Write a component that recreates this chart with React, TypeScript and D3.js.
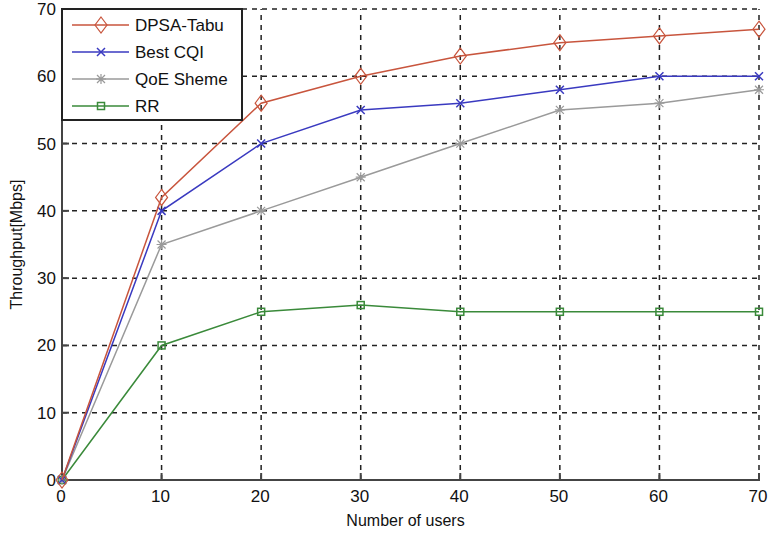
import React, { useRef, useEffect } from 'react';
import { select, scaleLinear, line, range } from 'd3';

const users = [0, 10, 20, 30, 40, 50, 60, 70];
const dpsaTabu = [0, 42, 56, 60, 63, 65, 66, 67];
const bestCqi = [0, 40, 50, 55, 56, 58, 60, 60];
const qoeSheme = [0, 35, 40, 45, 50, 55, 56, 58];
const rr = [0, 20, 25, 26, 25, 25, 25, 25];
const seriesNames = ['DPSA-Tabu', 'Best CQI', 'QoE Sheme', 'RR'];
const xTicks = [0, 10, 20, 30, 40, 50, 60, 70];
const yTicks = [0, 10, 20, 30, 40, 50, 60, 70];

const COLORS = ['#c8553d', '#3a3ac0', '#9a9a9a', '#3a8a3a'];
const MARKERS = ['diamond', 'x', 'star', 'square'];

const W = 770;
const H = 534;
const left = 62;
const right = 759;
const top = 9;
const bottom = 480;

function drawMarker(g: any, kind: string, x: number, y: number, color: string) {
  if (kind === 'diamond') {
    g.append('path')
      .attr('d', `M${x},${y - 8}L${x + 6},${y}L${x},${y + 8}L${x - 6},${y}Z`)
      .attr('fill', 'none').attr('stroke', color).attr('stroke-width', 1.2);
  } else if (kind === 'x') {
    g.append('path')
      .attr('d', `M${x - 4},${y - 4}L${x + 4},${y + 4}M${x - 4},${y + 4}L${x + 4},${y - 4}`)
      .attr('stroke', color).attr('stroke-width', 1.5);
  } else if (kind === 'star') {
    g.append('path')
      .attr('d', `M${x - 5},${y}L${x + 5},${y}M${x},${y - 5}L${x},${y + 5}M${x - 4},${y - 4}L${x + 4},${y + 4}M${x - 4},${y + 4}L${x + 4},${y - 4}`)
      .attr('stroke', color).attr('stroke-width', 1.2);
  } else {
    g.append('rect')
      .attr('x', x - 3.5).attr('y', y - 3.5).attr('width', 7).attr('height', 7)
      .attr('fill', 'none').attr('stroke', color).attr('stroke-width', 1.5);
  }
}

const Chart = () => {
  const svgRef = useRef<SVGSVGElement>(null);

  useEffect(() => {
    const svg = select(svgRef.current);
    svg.selectAll('*').remove();

    const x = scaleLinear().domain([0, 70]).range([left, right]);
    const y = scaleLinear().domain([0, 70]).range([bottom, top]);

    svg.append('rect').attr('width', W).attr('height', H).attr('fill', '#ffffff');

    // grid
    const grid = svg.append('g').attr('stroke', '#222').attr('stroke-width', 1.5)
      .attr('stroke-dasharray', '5,5');
    xTicks.slice(1).forEach(t => {
      grid.append('line').attr('x1', x(t)).attr('x2', x(t)).attr('y1', bottom).attr('y2', top);
    });
    yTicks.slice(1).forEach(t => {
      grid.append('line').attr('x1', left).attr('x2', right).attr('y1', y(t)).attr('y2', y(t));
    });

    // axes
    const axis = svg.append('g').attr('stroke', '#444').attr('stroke-width', 2);
    axis.append('line').attr('x1', left).attr('x2', left).attr('y1', top).attr('y2', bottom + 1);
    axis.append('line').attr('x1', left - 1).attr('x2', right + 1).attr('y1', bottom).attr('y2', bottom);
    xTicks.forEach(t => {
      axis.append('line').attr('x1', x(t)).attr('x2', x(t)).attr('y1', bottom).attr('y2', bottom - 7);
    });
    yTicks.forEach(t => {
      axis.append('line').attr('x1', left).attr('x2', left + 7).attr('y1', y(t)).attr('y2', y(t));
    });

    const font = 'Liberation Sans, Arial, sans-serif';
    const labels = svg.append('g').attr('font-family', font).attr('font-size', 17).attr('fill', '#111');
    xTicks.forEach(t => {
      labels.append('text').attr('x', x(t) - 1).attr('y', bottom + 22).attr('text-anchor', 'middle').text(t);
    });
    yTicks.forEach(t => {
      labels.append('text').attr('x', left - 6).attr('y', y(t)).attr('dy', '0.35em')
        .attr('text-anchor', 'end').text(t);
    });
    labels.append('text').attr('x', (left + right) / 2 - 5).attr('y', 526)
      .attr('text-anchor', 'middle').attr('font-size', 16).text('Number of users');
    labels.append('text')
      .attr('transform', `translate(22,${(top + bottom) / 2}) rotate(-90)`)
      .attr('text-anchor', 'middle').attr('font-size', 16).text('Throughput[Mbps]');

    // series
    const allSeries = [dpsaTabu, bestCqi, qoeSheme, rr];
    const lineGen = line<number>().x((d, i) => x(users[i])).y(d => y(d));
    [3, 2, 1, 0].forEach(s => {
      const g = svg.append('g');
      g.append('path').attr('d', lineGen(allSeries[s]))
        .attr('fill', 'none').attr('stroke', COLORS[s]).attr('stroke-width', 1.5);
      allSeries[s].forEach((v, i) => drawMarker(g, MARKERS[s], x(users[i]), y(v), COLORS[s]));
    });

    // legend
    const lg = svg.append('g');
    lg.append('rect').attr('x', left).attr('y', top).attr('width', 180).attr('height', 111)
      .attr('fill', '#fff').attr('stroke', '#222').attr('stroke-width', 2);
    range(seriesNames.length).forEach(i => {
      const ly = 25 + i * 27;
      lg.append('line').attr('x1', 72).attr('x2', 129).attr('y1', ly).attr('y2', ly)
        .attr('stroke', COLORS[i]).attr('stroke-width', 1.5);
      drawMarker(lg, MARKERS[i], 101, ly, COLORS[i]);
      lg.append('text').attr('x', 135).attr('y', ly).attr('dy', '0.35em')
        .attr('font-family', font).attr('font-size', 17).attr('fill', '#111').text(seriesNames[i]);
    });
  }, []);

  return <svg ref={svgRef} width={W} height={H} style={{ display: 'block' }} />;
};

export default function App() {
  return (
    <div style={{ position: 'absolute', left: 0, top: 0 }}>
      <Chart />
    </div>
  );
}
